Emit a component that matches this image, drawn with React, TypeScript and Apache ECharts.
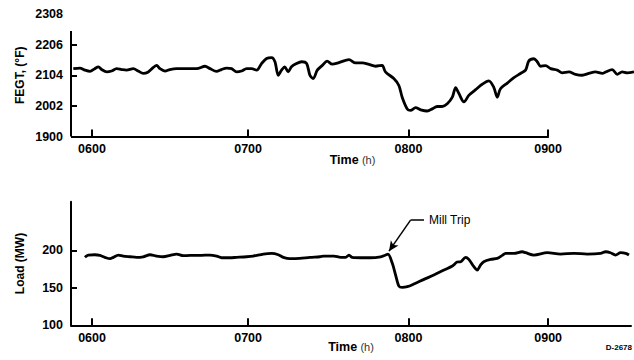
import React, { useEffect, useRef } from "react";
import * as echarts from "echarts";

// Time in minutes after midnight (0600 = 360)
const FEGT_TIME = [
  350.9, 353.5, 355.5, 357.5, 359.4, 360.8, 362.1, 364.1, 366.0, 368.0, 370.0, 371.9, 374.6, 376.5, 378.5,
  380.5, 382.5, 383.8, 385.1, 387.1, 389.0, 391.7, 395.6, 399.6, 402.9, 404.9, 407.4, 409.4, 411.4, 413.4,
  415.4, 417.3, 419.3, 421.3, 423.3, 425.2, 427.2, 429.2, 430.5, 431.8, 433.1, 434.4, 435.7, 437.0, 439.0,
  441.0, 443.0, 444.3, 445.6, 447.2, 449.2, 451.1, 453.1, 455.7, 459.7, 462.3, 465.0, 467.6, 470.2,
  472.8, 474.1, 477.4, 479.4, 480.7, 482.7, 484.0, 486.0, 488.0, 490.6, 492.6, 494.5, 496.5, 498.5, 500.5,
  501.8, 503.1, 505.1, 507.0, 509.7, 512.3, 514.9, 516.9, 518.2, 519.5, 522.2, 524.8, 527.4, 529.4, 530.7,
  532.7, 534.0, 535.3, 537.3, 539.3, 541.9, 543.9, 546.5, 549.1, 551.8, 554.4, 557.0, 559.7, 561.0, 563.6,
  565.6, 567.5, 569.5, 572.2,
];
const FEGT_VALUE = [
  2126, 2128, 2121, 2117, 2126, 2132, 2123, 2115, 2118, 2126, 2123, 2121, 2126, 2118, 2110,
  2115, 2130, 2137, 2126, 2118, 2123, 2126, 2126, 2126, 2134, 2126, 2117, 2123, 2128, 2126,
  2115, 2118, 2126, 2126, 2121, 2143, 2160, 2163, 2149, 2104, 2121, 2132, 2115, 2132, 2143,
  2149, 2143, 2104, 2093, 2121, 2137, 2151, 2141, 2146, 2156, 2145, 2145, 2140, 2134,
  2137, 2115, 2093, 2070, 2031, 1992, 1987, 1996, 1989, 1985, 1992, 2000, 2000, 2009, 2031,
  2063, 2043, 2015, 2037, 2056, 2074, 2085, 2063, 2031, 2059, 2078, 2096, 2110, 2121, 2152,
  2159, 2149, 2134, 2136, 2126, 2121, 2112, 2115, 2107, 2104, 2110, 2115, 2110, 2115, 2123,
  2107, 2115, 2112, 2115,
];

const LOAD_TIME = [
  355.5, 356.8, 359.4, 361.4, 363.4, 365.4, 366.7, 368.7, 370.6, 373.3, 375.9, 378.5, 381.2, 383.8, 386.4,
  389.1, 391.7, 394.3, 397.0, 400.9, 404.8, 407.5, 409.4, 412.7, 415.3, 419.3, 421.9, 425.9, 429.2, 431.8,
  433.8, 436.4, 440.3, 444.3, 448.2, 449.8, 453.8, 456.4, 458.4, 459.7, 461.0, 464.3, 468.2, 472.2,
  474.2, 475.1, 476.8, 478.1, 479.4, 480.7, 482.7, 485.3, 489.3, 493.2, 497.2, 500.5, 502.4, 503.8, 505.7,
  507.0, 509.0, 510.3, 511.6, 512.9, 515.6, 518.2, 520.2, 521.5, 524.8, 528.1, 529.4, 532.7, 538.0, 543.2,
  548.5, 553.7, 559.0, 561.0, 562.9, 564.9, 566.9, 568.9, 570.2,
];
const LOAD_VALUE = [
  190.7, 193.8, 194.2, 193.3, 190.7, 188.9, 190.7, 193.8, 192.4, 191.5, 190.7, 191.5, 194.2, 192.4, 191.5,
  193.3, 195.1, 192.9, 193.3, 193.3, 193.8, 192.4, 190.2, 190.2, 190.7, 191.5, 192.4, 195.1, 196.0, 194.2,
  190.7, 188.9, 189.3, 190.7, 191.5, 192.4, 192.4, 190.7, 190.7, 193.8, 190.7, 190.2, 190.2, 191.5,
  193.8, 195.1, 182.7, 167.1, 152.4, 150.7, 151.6, 155.1, 161.3, 167.1, 173.8, 179.1, 184.4, 184.9, 190.7,
  188.0, 178.2, 173.8, 180.4, 184.9, 188.0, 189.3, 193.3, 196.0, 196.0, 198.2, 196.9, 193.8, 196.9, 195.1,
  196.0, 195.1, 196.0, 198.2, 196.9, 193.8, 196.9, 196.0, 193.8,
];

// Hour tick positions (as drawn on the original figure) and their labels
const X_TICKS = [358.3, 419.9, 483.2, 538.3];
const X_LABELS = ["0600", "0700", "0800", "0900"];

const FEGT_LABELS = [1900, 2002, 2104, 2206, 2308];
const FEGT_TICKS = [2002, 2104, 2206];
const LOAD_LABELS = [100, 150, 200];
const LOAD_TICKS = [150, 200];

// Mill trip annotation (time, value)
const TRIP_TIP = [475.5, 199];
const TRIP_ELBOW = [484.0, 240.4];
const TRIP_LABEL_END = [489.3, 240.4];

const FONT = "'Liberation Sans', Arial, Helvetica, sans-serif";

function xLabel(v: number) {
  let best = 0;
  for (let i = 1; i < X_TICKS.length; i++) {
    if (Math.abs(X_TICKS[i] - v) < Math.abs(X_TICKS[best] - v)) best = i;
  }
  return X_LABELS[best];
}

export default function App() {
  const ref = useRef<HTMLDivElement>(null);

  useEffect(() => {
    if (!ref.current) return;
    const chart = echarts.init(ref.current, undefined, { renderer: "svg" });

    const baseLabel = {
      color: "#000",
      fontFamily: FONT,
      fontWeight: "bold" as const,
      fontSize: 12.5,
    };
    const timeName = {
      name: "{b|Time} {n|(h)}",
      nameLocation: "middle" as const,
      nameMoveOverlap: false,
      nameTextStyle: {
        rich: {
          b: { fontFamily: FONT, fontWeight: "bold", fontSize: 12.5, color: "#000" },
          n: { fontFamily: FONT, fontSize: 11, color: "#333" },
        },
      },
    };

    chart.setOption({
      animation: false,
      backgroundColor: "#fff",
      grid: [
        { left: 71, top: 14, width: 563, height: 122.5 },
        { left: 71, top: 201.7, width: 560, height: 123.6 },
      ],
      xAxis: [
        {
          type: "value",
          gridIndex: 0,
          min: 350,
          max: 572.2,
          ...timeName,
          nameGap: 17,
          axisLine: { show: false },
          axisTick: {
            show: true,
            inside: true,
            length: 7,
            customValues: X_TICKS,
            lineStyle: { color: "#000", width: 2 },
          },
          axisLabel: { ...baseLabel, customValues: X_TICKS, formatter: xLabel, margin: 6 },
          splitLine: { show: false },
        },
        {
          type: "value",
          gridIndex: 1,
          min: 350,
          max: 571,
          ...timeName,
          nameGap: 15,
          axisLine: { show: true, lineStyle: { color: "#000", width: 2 } },
          axisTick: {
            show: true,
            inside: true,
            length: 7,
            customValues: X_TICKS,
            lineStyle: { color: "#000", width: 2 },
          },
          axisLabel: { ...baseLabel, customValues: X_TICKS, formatter: xLabel, margin: 6 },
          splitLine: { show: false },
        },
      ],
      yAxis: [
        {
          type: "value",
          gridIndex: 0,
          min: 1900,
          max: 2308,
          name: "FEGT, (°F)",
          nameLocation: "middle",
          nameGap: 45,
          nameMoveOverlap: false,
          nameTextStyle: { fontFamily: FONT, fontWeight: "bold", fontSize: 12, color: "#000" },
          axisLine: { show: false },
          axisTick: {
            show: true,
            inside: true,
            length: 6,
            customValues: FEGT_TICKS,
            lineStyle: { color: "#000", width: 2 },
          },
          axisLabel: {
            ...baseLabel,
            customValues: FEGT_LABELS,
            margin: 8,
            formatter: (v: number) => String(v),
          },
          splitLine: { show: false },
        },
        {
          type: "value",
          gridIndex: 1,
          min: 100,
          max: 265,
          name: "Load (MW)",
          nameLocation: "middle",
          nameGap: 45,
          nameMoveOverlap: false,
          nameTextStyle: { fontFamily: FONT, fontWeight: "bold", fontSize: 12, color: "#000" },
          axisLine: { show: true, lineStyle: { color: "#000", width: 2 } },
          axisTick: {
            show: true,
            inside: true,
            length: 6,
            customValues: LOAD_TICKS,
            lineStyle: { color: "#000", width: 2 },
          },
          axisLabel: {
            ...baseLabel,
            customValues: LOAD_LABELS,
            margin: 8,
            formatter: (v: number) => String(v),
          },
          splitLine: { show: false },
        },
      ],
      series: [
        {
          type: "line",
          xAxisIndex: 0,
          yAxisIndex: 0,
          data: FEGT_TIME.map((t, i) => [t, FEGT_VALUE[i]]),
          showSymbol: false,
          smooth: 0.3,
          clip: false,
          lineStyle: { color: "#000", width: 2.8 },
          markLine: {
            silent: true,
            symbol: ["none", "none"],
            label: { show: false },
            lineStyle: { color: "#000", width: 2, type: "solid" },
            data: [
              [{ coord: [350, 1900] }, { coord: [X_TICKS[3] + 0.3, 1900] }],
              [{ coord: [350, 1900] }, { coord: [350, 2251] }],
            ],
          },
        },
        {
          type: "line",
          xAxisIndex: 1,
          yAxisIndex: 1,
          data: LOAD_TIME.map((t, i) => [t, LOAD_VALUE[i]]),
          showSymbol: false,
          smooth: 0.3,
          lineStyle: { color: "#000", width: 2.8 },
          markLine: {
            silent: true,
            symbol: ["none", "none"],
            lineStyle: { color: "#000", width: 1.5, type: "solid" },
            label: { show: false },
            data: [
              [
                {
                  coord: TRIP_ELBOW,
                  label: {
                    show: true,
                    position: "end",
                    formatter: "Mill Trip",
                    distance: 5,
                    color: "#000",
                    fontFamily: FONT,
                    fontSize: 12,
                  },
                },
                { coord: TRIP_LABEL_END },
              ],
              [
                { coord: TRIP_ELBOW, symbol: "none" },
                { coord: TRIP_TIP, symbol: "arrow", symbolSize: [7, 10] },
              ],
            ],
          },
        },
      ],
      graphic: [
        {
          type: "text",
          right: 2,
          top: 343,
          style: { text: "D-2678", fontFamily: FONT, fontWeight: "bold", fontSize: 8, fill: "#000" },
        },
      ],
    });

    return () => chart.dispose();
  }, []);

  return (
    <div
      ref={ref}
      style={{ position: "fixed", left: 0, top: 0, width: 634, height: 360, background: "#fff" }}
    />
  );
}
